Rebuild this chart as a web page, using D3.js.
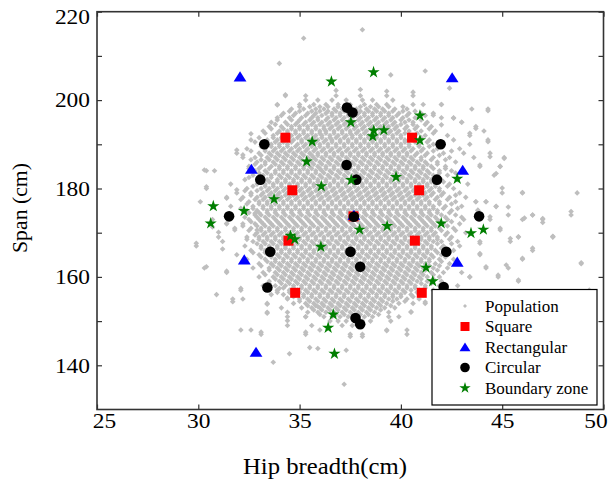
<!DOCTYPE html>
<html>
<head>
<meta charset="utf-8">
<script src="https://cdn.jsdelivr.net/npm/d3@7/dist/d3.min.js"></script>
<style>
  body { margin: 0; background: #fff; }
  text { font-family: 'Liberation Serif', 'Times New Roman', serif; fill: #000; }
</style>
</head>
<body>
<div id="chart"></div>
<script>
// ---
// Data
// ---
const xTickValues = [25, 30, 35, 40, 45, 50]
const yTickValues = [140, 150, 160, 170, 180, 190, 200, 210, 220]
const legendLabels = ['Population', 'Square', 'Rectangular', 'Circular', 'Boundary zone']

const squarePts = [
  [34.3, 191.5], [40.55, 191.5], [34.64, 179.6], [40.9, 179.6], [37.66, 173.7],
  [34.45, 168.2], [40.69, 168.2], [34.78, 156.4], [41.03, 156.4]
]

const rectPts = [
  [32.06, 205.3], [42.53, 205.1], [32.62, 184.4], [43.05, 184.2], [37.68, 174.0],
  [32.27, 163.9], [42.78, 163.4], [32.85, 143.0]
]

const circPts = [
  [37.34, 198.3], [37.61, 197.2], [33.26, 190.0], [41.96, 190.0], [37.32, 185.3],
  [33.06, 182.0], [37.8, 182.0], [41.78, 182.0], [31.52, 173.7], [37.68, 173.6],
  [43.86, 173.7], [33.55, 165.7], [37.51, 165.7], [42.24, 165.7], [37.99, 162.3],
  [33.41, 157.6], [42.11, 157.7], [37.76, 150.7], [37.99, 149.3]
]

const starPts = [
  [36.57, 204.2], [38.65, 206.3], [40.94, 196.5], [37.53, 195.0], [38.66, 193.1],
  [39.16, 193.2], [38.61, 191.8], [40.94, 190.9], [35.62, 190.6], [35.35, 186.1],
  [39.76, 182.6], [37.55, 181.9], [42.78, 182.2], [36.07, 180.5], [33.74, 177.6],
  [30.74, 176.0], [32.26, 174.9], [30.61, 172.1], [41.99, 172.1], [39.32, 171.5],
  [37.96, 170.7], [43.46, 169.9], [44.07, 170.7], [34.55, 169.3], [34.76, 168.5],
  [36.05, 166.8], [41.24, 162.1], [41.57, 159.0], [36.66, 151.5], [36.41, 148.5],
  [36.72, 142.6]
]

// population, dense part: [span, [hip breadths]]
const popRows = [
  [201, [34.3, 35.3, 36.8, 38.0, 39.3, 40.6]],
  [200, [35.3, 35.9, 36.6, 37.3, 38.1, 38.6, 39.6]],
  [199, [33.9, 35.0, 35.7, 36.3, 36.9, 37.5, 38.2, 38.8, 39.3, 40.6, 41.1, 42.0]],
  [198, [34.6, 35.2, 35.8, 36.2, 36.7, 37.1, 37.8, 38.3, 38.7, 39.1, 39.7, 40.3, 43.5, 44.3]],
  [197, [34.2, 34.8, 35.4, 35.8, 36.3, 36.6, 37.0, 37.4, 37.9, 38.2, 38.6, 39.0, 39.4, 39.9, 40.4, 41.0, 41.6]],
  [196, [33.9, 34.5, 35.1, 35.6, 35.9, 36.4, 36.8, 37.2, 37.6, 38.0, 38.4, 38.8, 39.2, 39.6, 40.1, 40.7, 42.0, 42.6]],
  [195, [33.6, 34.3, 34.9, 35.3, 35.7, 36.1, 36.5, 36.9, 37.3, 37.7, 38.1, 38.5, 38.9, 39.3, 39.7, 40.2, 40.6, 41.3, 43.0]],
  [194, [33.5, 34.1, 34.6, 35.0, 35.4, 35.8, 36.2, 36.6, 37.0, 37.4, 37.8, 38.2, 38.6, 39.0, 39.4, 39.8, 40.3, 40.8, 41.5, 43.7]],
  [193, [33.2, 34.0, 34.4, 34.8, 35.2, 35.6, 36.0, 36.3, 36.7, 37.1, 37.5, 37.9, 38.3, 38.7, 39.1, 39.5, 39.9, 40.4, 41.0, 41.7, 44.1]],
  [192, [33.7, 34.2, 34.6, 35.0, 35.4, 35.8, 36.1, 36.5, 36.9, 37.3, 37.6, 38.0, 38.4, 38.8, 39.2, 39.6, 40.0, 40.5, 41.2, 42.3, 43.4]],
  [191, [32.6, 33.4, 33.9, 34.3, 34.7, 35.1, 35.5, 35.9, 36.3, 36.6, 37.0, 37.4, 37.8, 38.2, 38.6, 39.0, 39.4, 39.8, 40.2, 40.7, 41.4, 42.6, 44.3]],
  [190, [33.1, 33.6, 34.0, 34.4, 34.9, 35.3, 35.7, 36.0, 36.4, 36.8, 37.2, 37.6, 38.0, 38.4, 38.8, 39.2, 39.6, 40.0, 40.4, 40.9, 41.6, 43.4]],
  [189, [32.4, 33.3, 33.8, 34.2, 34.6, 35.0, 35.4, 35.8, 36.2, 36.6, 37.0, 37.4, 37.8, 38.2, 38.6, 39.0, 39.4, 39.8, 40.2, 40.6, 41.1, 41.8, 42.9]],
  [188, [31.9, 33.0, 33.5, 33.9, 34.3, 34.7, 35.1, 35.5, 35.9, 36.3, 36.7, 37.1, 37.5, 37.9, 38.3, 38.7, 39.1, 39.5, 39.9, 40.3, 40.8, 41.3, 42.1, 43.1, 44.4]],
  [187, [32.2, 32.8, 33.4, 33.8, 34.2, 34.6, 35.0, 35.4, 35.7, 36.1, 36.5, 36.9, 37.3, 37.7, 38.1, 38.5, 38.9, 39.3, 39.7, 40.1, 40.5, 41.0, 41.6, 42.4, 43.6, 45.1]],
  [186, [32.9, 33.3, 33.7, 34.1, 34.5, 34.9, 35.3, 35.6, 36.0, 36.4, 36.8, 37.2, 37.6, 38.0, 38.4, 38.8, 39.2, 39.6, 40.0, 40.4, 40.8, 41.2, 41.8, 42.7]],
  [185, [32.5, 33.1, 33.6, 34.0, 34.4, 34.8, 35.2, 35.5, 35.9, 36.3, 36.7, 37.1, 37.5, 37.9, 38.3, 38.7, 39.1, 39.5, 39.9, 40.3, 40.7, 41.1, 41.5, 42.2, 43.9, 44.9]],
  [184, [30.4, 30.8, 32.8, 33.3, 33.8, 34.2, 34.6, 35.0, 35.4, 35.8, 36.1, 36.5, 36.9, 37.3, 37.7, 38.1, 38.5, 38.9, 39.3, 39.7, 40.1, 40.5, 40.9, 41.3, 41.9, 42.5]],
  [183, [32.7, 33.2, 33.6, 34.0, 34.4, 34.8, 35.2, 35.6, 36.0, 36.4, 36.8, 37.2, 37.6, 38.0, 38.4, 38.8, 39.2, 39.6, 40.0, 40.4, 40.8, 41.2, 41.6, 42.3, 44.6]],
  [182, [32.3, 33.4, 33.9, 34.3, 34.7, 35.1, 35.5, 35.9, 36.3, 36.7, 37.1, 37.5, 37.9, 38.3, 38.7, 39.1, 39.5, 39.9, 40.3, 40.7, 41.1, 41.5, 42.0, 42.8]],
  [181, [31.6, 32.9, 33.3, 33.7, 34.1, 34.5, 34.9, 35.3, 35.7, 36.1, 36.5, 36.9, 37.3, 37.7, 38.1, 38.5, 38.9, 39.3, 39.7, 40.1, 40.5, 40.9, 41.3, 41.7, 42.4, 43.3]],
  [180, [30.4, 32.4, 33.1, 33.5, 33.9, 34.3, 34.7, 35.1, 35.5, 35.9, 36.3, 36.7, 37.1, 37.5, 37.9, 38.3, 38.7, 39.1, 39.5, 39.9, 40.3, 40.7, 41.1, 41.5, 41.9, 42.6]],
  [179, [31.9, 32.6, 33.2, 33.6, 34.0, 34.4, 34.8, 35.2, 35.6, 36.0, 36.4, 36.8, 37.2, 37.6, 38.0, 38.4, 38.8, 39.2, 39.6, 40.0, 40.4, 40.8, 41.2, 41.6, 42.1, 42.9, 45.0, 46.0, 48.7]],
  [178, [31.4, 32.2, 32.9, 33.3, 33.7, 34.1, 34.5, 34.9, 35.3, 35.7, 36.1, 36.5, 36.9, 37.3, 37.7, 38.1, 38.5, 38.9, 39.3, 39.7, 40.1, 40.5, 40.9, 41.3, 41.8, 42.4, 43.2]],
  [177, [30.1, 32.5, 33.0, 33.4, 33.8, 34.2, 34.6, 35.0, 35.4, 35.8, 36.2, 36.6, 37.0, 37.4, 37.8, 38.2, 38.6, 39.0, 39.4, 39.8, 40.2, 40.6, 41.0, 41.4, 41.9, 42.7, 43.7, 44.2]],
  [176, [31.6, 32.7, 33.2, 33.6, 34.0, 34.4, 34.8, 35.2, 35.6, 36.0, 36.4, 36.8, 37.2, 37.6, 38.0, 38.4, 38.8, 39.2, 39.6, 40.0, 40.4, 40.8, 41.2, 41.6, 42.2, 43.0, 44.7]],
  [175, [32.4, 32.9, 33.4, 33.8, 34.2, 34.6, 35.0, 35.4, 35.8, 36.2, 36.6, 37.0, 37.4, 37.8, 38.2, 38.6, 39.0, 39.4, 39.8, 40.2, 40.6, 41.0, 41.4, 41.8, 42.5, 43.8]],
  [174, [32.8, 33.1, 33.5, 33.9, 34.3, 34.7, 35.1, 35.5, 35.9, 36.3, 36.7, 37.1, 37.5, 37.9, 38.3, 38.7, 39.1, 39.5, 39.9, 40.3, 40.7, 41.1, 41.5, 42.0, 42.7, 45.3, 46.5, 48.4]],
  [173, [30.7, 32.5, 33.0, 33.4, 33.8, 34.2, 34.6, 35.0, 35.4, 35.8, 36.2, 36.6, 37.0, 37.4, 37.8, 38.2, 38.6, 39.0, 39.4, 39.8, 40.2, 40.6, 41.0, 41.4, 41.8, 42.3, 43.1, 44.4, 46.0, 47.0]],
  [172, [31.4, 32.2, 32.8, 33.2, 33.6, 34.0, 34.4, 34.8, 35.2, 35.6, 36.0, 36.4, 36.8, 37.2, 37.6, 38.0, 38.4, 38.8, 39.2, 39.6, 40.0, 40.4, 40.8, 41.2, 41.6, 42.1, 42.9]],
  [171, [31.8, 32.6, 33.1, 33.5, 33.9, 34.3, 34.7, 35.1, 35.5, 35.9, 36.3, 36.7, 37.1, 37.5, 37.9, 38.3, 38.7, 39.1, 39.5, 39.9, 40.3, 40.7, 41.1, 41.5, 41.9, 42.6, 44.9]],
  [170, [32.9, 33.3, 33.7, 34.1, 34.5, 34.9, 35.3, 35.7, 36.1, 36.5, 36.9, 37.3, 37.7, 38.1, 38.5, 38.9, 39.3, 39.7, 40.1, 40.5, 40.9, 41.3, 41.7, 42.3, 43.2]],
  [169, [31.0, 32.4, 33.0, 33.4, 33.8, 34.2, 34.6, 35.0, 35.4, 35.8, 36.2, 36.6, 37.0, 37.4, 37.8, 38.2, 38.6, 39.0, 39.4, 39.8, 40.2, 40.6, 41.0, 41.4, 41.8, 42.5, 45.8, 47.5]],
  [168, [31.2, 32.7, 33.2, 33.6, 34.0, 34.4, 34.8, 35.2, 35.6, 36.0, 36.4, 36.8, 37.2, 37.6, 38.0, 38.4, 38.8, 39.2, 39.6, 40.0, 40.4, 40.8, 41.2, 41.6, 42.0, 42.8, 43.9, 45.4]],
  [167, [29.9, 32.3, 33.1, 33.5, 33.9, 34.3, 34.7, 35.1, 35.5, 35.9, 36.3, 36.7, 37.1, 37.5, 37.9, 38.3, 38.7, 39.1, 39.5, 39.9, 40.3, 40.7, 41.1, 41.5, 42.1, 42.9]],
  [166, [32.6, 33.3, 33.7, 34.1, 34.5, 34.9, 35.3, 35.7, 36.1, 36.5, 36.9, 37.3, 37.7, 38.1, 38.5, 38.9, 39.3, 39.7, 40.1, 40.5, 40.9, 41.3, 41.7, 42.6, 46.5]],
  [165, [31.9, 33.0, 33.5, 33.9, 34.3, 34.7, 35.1, 35.5, 35.9, 36.3, 36.7, 37.1, 37.5, 37.9, 38.3, 38.7, 39.1, 39.5, 39.9, 40.3, 40.7, 41.1, 41.5, 42.0, 43.9]],
  [164, [32.4, 33.3, 33.8, 34.2, 34.6, 35.0, 35.4, 35.8, 36.2, 36.6, 37.0, 37.4, 37.8, 38.2, 38.6, 39.0, 39.4, 39.8, 40.2, 40.6, 41.0, 41.4, 41.9, 42.6, 46.0]],
  [163, [33.0, 33.6, 34.0, 34.4, 34.8, 35.2, 35.6, 36.0, 36.4, 36.8, 37.2, 37.6, 38.0, 38.4, 38.8, 39.2, 39.6, 40.0, 40.4, 40.8, 41.2, 41.7, 42.4, 48.9]],
  [162, [30.3, 32.7, 33.5, 33.9, 34.3, 34.7, 35.1, 35.5, 35.9, 36.3, 36.7, 37.1, 37.5, 37.9, 38.3, 38.7, 39.1, 39.5, 39.9, 40.3, 40.7, 41.1, 41.6, 42.3, 44.2, 45.3]],
  [161, [31.4, 33.2, 33.8, 34.2, 34.6, 35.0, 35.4, 35.8, 36.2, 36.6, 37.0, 37.4, 37.8, 38.2, 38.6, 39.0, 39.4, 39.8, 40.2, 40.6, 41.0, 41.5, 42.1, 43.0]],
  [160, [33.0, 33.7, 34.1, 34.5, 34.9, 35.3, 35.7, 36.1, 36.5, 36.9, 37.3, 37.7, 38.1, 38.5, 38.9, 39.3, 39.7, 40.1, 40.5, 40.9, 41.3, 41.9, 43.4, 44.8]],
  [159, [33.5, 34.0, 34.4, 34.8, 35.2, 35.6, 36.0, 36.4, 36.8, 37.2, 37.6, 38.0, 38.4, 38.8, 39.2, 39.6, 40.0, 40.4, 40.8, 41.3, 42.0, 45.8]],
  [158, [33.2, 33.8, 34.3, 34.7, 35.1, 35.5, 35.9, 36.3, 36.7, 37.1, 37.5, 37.9, 38.3, 38.7, 39.1, 39.5, 39.9, 40.3, 40.7, 41.2, 41.9, 42.8]],
  [157, [32.1, 33.9, 34.5, 34.9, 35.3, 35.7, 36.1, 36.5, 36.9, 37.3, 37.7, 38.1, 38.5, 38.9, 39.3, 39.7, 40.1, 40.5, 40.9, 41.6, 49.3]],
  [156, [30.9, 33.6, 34.2, 34.8, 35.2, 35.6, 36.0, 36.4, 36.8, 37.2, 37.6, 38.0, 38.4, 38.8, 39.2, 39.6, 40.0, 40.5, 41.1, 42.3]],
  [155, [31.7, 32.2, 34.4, 35.0, 35.4, 35.8, 36.2, 36.6, 37.0, 37.4, 37.8, 38.2, 38.6, 39.0, 39.4, 39.8, 40.3, 40.9]],
  [154, [33.4, 34.7, 35.3, 35.7, 36.1, 36.5, 36.9, 37.3, 37.7, 38.1, 38.5, 38.9, 39.3, 39.9, 40.6, 41.2]],
  [153, [34.1, 35.1, 35.6, 36.0, 36.4, 36.8, 37.2, 37.6, 38.0, 38.4, 38.8, 39.2, 39.7]],
  [152, [33.4, 34.4, 35.4, 35.9, 36.3, 36.7, 37.1, 37.5, 37.9, 38.3, 38.7, 39.4, 40.5]],
  [151, [34.4, 35.3, 36.2, 36.6, 37.0, 37.4, 37.8, 38.2, 38.6, 39.4, 39.9]],
  [150, [36.5, 36.9, 37.3, 37.7, 38.1, 38.5, 39.5]],
  [149, [34.4, 35.6, 37.1, 37.6]],
  [148, [32.1, 32.6, 36.0, 39.3, 40.3]],
  [147, [33.1, 35.3, 37.5, 38.1]]
]

// population, dense part between the rows above: [span, [hip breadths]]
const popHalfRows = [
  [198.5, [35.0, 35.5, 36.0, 36.4, 36.9, 37.5, 38.0, 38.5, 38.9, 39.4, 40.1]],
  [197.5, [34.5, 35.0, 35.6, 36.0, 36.4, 36.8, 37.2, 37.6, 38.0, 38.4, 38.8, 39.2, 39.6, 40.1, 40.7]],
  [196.5, [34.1, 34.7, 35.3, 35.7, 36.1, 36.6, 37.0, 37.4, 37.8, 38.2, 38.6, 39.0, 39.4, 39.8, 40.3, 41.2]],
  [195.5, [33.9, 34.6, 35.0, 35.5, 35.9, 36.3, 36.7, 37.1, 37.5, 37.9, 38.3, 38.7, 39.1, 39.5, 40.0, 40.4, 41.0]],
  [194.5, [33.8, 34.4, 34.8, 35.2, 35.6, 36.0, 36.4, 36.8, 37.2, 37.6, 38.0, 38.4, 38.8, 39.2, 39.6, 40.0, 40.6, 41.2]],
  [193.5, [33.6, 34.2, 34.6, 35.0, 35.4, 35.8, 36.2, 36.5, 36.9, 37.3, 37.7, 38.1, 38.5, 38.9, 39.3, 39.7, 40.2, 40.7, 41.4]],
  [192.5, [33.3, 33.9, 34.4, 34.8, 35.2, 35.6, 36.0, 36.3, 36.7, 37.1, 37.5, 37.8, 38.2, 38.6, 39.0, 39.4, 39.8, 40.2, 40.8, 41.6]],
  [191.5, [33.0, 33.7, 34.1, 34.5, 34.9, 35.3, 35.7, 36.1, 36.5, 36.8, 37.2, 37.6, 38.0, 38.4, 38.8, 39.2, 39.6, 40.0, 40.5, 41.0]],
  [190.5, [32.8, 33.4, 33.8, 34.2, 34.6, 35.1, 35.5, 35.8, 36.2, 36.6, 37.0, 37.4, 37.8, 38.2, 38.6, 39.0, 39.4, 39.8, 40.2, 40.7, 41.3, 42.0]],
  [189.5, [33.1, 33.6, 34.0, 34.4, 34.8, 35.2, 35.6, 36.0, 36.4, 36.8, 37.2, 37.6, 38.0, 38.4, 38.8, 39.2, 39.6, 40.0, 40.4, 40.9, 41.4]],
  [188.5, [32.6, 33.3, 33.7, 34.1, 34.5, 34.9, 35.3, 35.7, 36.1, 36.5, 36.9, 37.3, 37.7, 38.1, 38.5, 38.9, 39.3, 39.7, 40.1, 40.5, 41.0, 41.6, 42.5]],
  [187.5, [33.1, 33.6, 34.0, 34.4, 34.8, 35.2, 35.6, 35.9, 36.3, 36.7, 37.1, 37.5, 37.9, 38.3, 38.7, 39.1, 39.5, 39.9, 40.3, 40.7, 41.2, 41.9]],
  [186.5, [32.6, 33.1, 33.5, 33.9, 34.3, 34.7, 35.1, 35.5, 35.8, 36.2, 36.6, 37.0, 37.4, 37.8, 38.2, 38.6, 39.0, 39.4, 39.8, 40.2, 40.6, 41.0, 41.5, 42.2]],
  [185.5, [32.8, 33.3, 33.8, 34.2, 34.6, 35.0, 35.3, 35.7, 36.1, 36.5, 36.9, 37.3, 37.7, 38.1, 38.5, 38.9, 39.3, 39.7, 40.1, 40.5, 40.9, 41.3, 41.8]],
  [184.5, [32.5, 33.0, 33.5, 34.0, 34.4, 34.8, 35.2, 35.6, 36.0, 36.3, 36.7, 37.1, 37.5, 37.9, 38.3, 38.7, 39.1, 39.5, 39.9, 40.3, 40.7, 41.1, 41.6, 42.2]],
  [183.5, [33.0, 33.4, 33.8, 34.2, 34.6, 35.0, 35.4, 35.8, 36.2, 36.6, 37.0, 37.4, 37.8, 38.2, 38.6, 39.0, 39.4, 39.8, 40.2, 40.6, 41.0, 41.4, 41.9, 42.7]],
  [182.5, [32.5, 33.1, 33.6, 34.1, 34.5, 34.9, 35.3, 35.7, 36.1, 36.5, 36.9, 37.3, 37.7, 38.1, 38.5, 38.9, 39.3, 39.7, 40.1, 40.5, 40.9, 41.3, 41.8]],
  [181.5, [33.1, 33.5, 33.9, 34.3, 34.7, 35.1, 35.5, 35.9, 36.3, 36.7, 37.1, 37.5, 37.9, 38.3, 38.7, 39.1, 39.5, 39.9, 40.3, 40.7, 41.1, 41.5, 42.1]],
  [180.5, [32.7, 33.3, 33.7, 34.1, 34.5, 34.9, 35.3, 35.7, 36.1, 36.5, 36.9, 37.3, 37.7, 38.1, 38.5, 38.9, 39.3, 39.7, 40.1, 40.5, 40.9, 41.3, 41.7, 42.3]],
  [179.5, [32.3, 32.9, 33.4, 33.8, 34.2, 34.6, 35.0, 35.4, 35.8, 36.2, 36.6, 37.0, 37.4, 37.8, 38.2, 38.6, 39.0, 39.4, 39.8, 40.2, 40.6, 41.0, 41.4, 41.9]],
  [178.5, [32.6, 33.1, 33.5, 33.9, 34.3, 34.7, 35.1, 35.5, 35.9, 36.3, 36.7, 37.1, 37.5, 37.9, 38.3, 38.7, 39.1, 39.5, 39.9, 40.3, 40.7, 41.1, 41.5, 42.0, 42.7]],
  [177.5, [32.1, 32.8, 33.2, 33.6, 34.0, 34.4, 34.8, 35.2, 35.6, 36.0, 36.4, 36.8, 37.2, 37.6, 38.0, 38.4, 38.8, 39.2, 39.6, 40.0, 40.4, 40.8, 41.2, 41.7, 42.3]],
  [176.5, [32.4, 33.0, 33.4, 33.8, 34.2, 34.6, 35.0, 35.4, 35.8, 36.2, 36.6, 37.0, 37.4, 37.8, 38.2, 38.6, 39.0, 39.4, 39.8, 40.2, 40.6, 41.0, 41.4, 41.9, 42.5]],
  [175.5, [32.1, 32.7, 33.2, 33.6, 34.0, 34.4, 34.8, 35.2, 35.6, 36.0, 36.4, 36.8, 37.2, 37.6, 38.0, 38.4, 38.8, 39.2, 39.6, 40.0, 40.4, 40.8, 41.2, 41.6, 42.1, 42.8]],
  [174.5, [32.5, 33.0, 33.4, 33.8, 34.2, 34.6, 35.0, 35.4, 35.8, 36.2, 36.6, 37.0, 37.4, 37.8, 38.2, 38.6, 39.0, 39.4, 39.8, 40.2, 40.6, 41.0, 41.4, 41.8, 42.4]],
  [173.5, [32.3, 32.9, 33.3, 33.7, 34.1, 34.5, 34.9, 35.3, 35.7, 36.1, 36.5, 36.9, 37.3, 37.7, 38.1, 38.5, 38.9, 39.3, 39.7, 40.1, 40.5, 40.9, 41.3, 41.7, 42.2, 43.0]],
  [172.5, [32.6, 33.1, 33.5, 33.9, 34.3, 34.7, 35.1, 35.5, 35.9, 36.3, 36.7, 37.1, 37.5, 37.9, 38.3, 38.7, 39.1, 39.5, 39.9, 40.3, 40.7, 41.1, 41.5, 41.9, 42.5]],
  [171.5, [32.2, 32.9, 33.3, 33.7, 34.1, 34.5, 34.9, 35.3, 35.7, 36.1, 36.5, 36.9, 37.3, 37.7, 38.1, 38.5, 38.9, 39.3, 39.7, 40.1, 40.5, 40.9, 41.3, 41.7, 42.3]],
  [170.5, [32.5, 33.1, 33.5, 33.9, 34.3, 34.7, 35.1, 35.5, 35.9, 36.3, 36.7, 37.1, 37.5, 37.9, 38.3, 38.7, 39.1, 39.5, 39.9, 40.3, 40.7, 41.1, 41.5, 42.0, 42.7]],
  [169.5, [32.8, 33.2, 33.6, 34.0, 34.4, 34.8, 35.2, 35.6, 36.0, 36.4, 36.8, 37.2, 37.6, 38.0, 38.4, 38.8, 39.2, 39.6, 40.0, 40.4, 40.8, 41.2, 41.6, 42.2]],
  [168.5, [32.4, 33.0, 33.4, 33.8, 34.2, 34.6, 35.0, 35.4, 35.8, 36.2, 36.6, 37.0, 37.4, 37.8, 38.2, 38.6, 39.0, 39.4, 39.8, 40.2, 40.6, 41.0, 41.4, 41.8, 42.4]],
  [167.5, [32.9, 33.3, 33.7, 34.1, 34.5, 34.9, 35.3, 35.7, 36.1, 36.5, 36.9, 37.3, 37.7, 38.1, 38.5, 38.9, 39.3, 39.7, 40.1, 40.5, 40.9, 41.3, 41.8, 42.5]],
  [166.5, [33.1, 33.5, 33.9, 34.3, 34.7, 35.1, 35.5, 35.9, 36.3, 36.7, 37.1, 37.5, 37.9, 38.3, 38.7, 39.1, 39.5, 39.9, 40.3, 40.7, 41.1, 41.5, 42.0]],
  [165.5, [32.7, 33.3, 33.7, 34.1, 34.5, 34.9, 35.3, 35.7, 36.1, 36.5, 36.9, 37.3, 37.7, 38.1, 38.5, 38.9, 39.3, 39.7, 40.1, 40.5, 40.9, 41.3, 41.8, 42.4]],
  [164.5, [33.1, 33.6, 34.0, 34.4, 34.8, 35.2, 35.6, 36.0, 36.4, 36.8, 37.2, 37.6, 38.0, 38.4, 38.8, 39.2, 39.6, 40.0, 40.4, 40.8, 41.2, 41.6, 42.2]],
  [163.5, [33.4, 33.8, 34.2, 34.6, 35.0, 35.4, 35.8, 36.2, 36.6, 37.0, 37.4, 37.8, 38.2, 38.6, 39.0, 39.4, 39.8, 40.2, 40.6, 41.0, 41.4, 42.0]],
  [162.5, [33.1, 33.7, 34.1, 34.5, 34.9, 35.3, 35.7, 36.1, 36.5, 36.9, 37.3, 37.7, 38.1, 38.5, 38.9, 39.3, 39.7, 40.1, 40.5, 40.9, 41.4, 41.9]],
  [161.5, [33.5, 34.0, 34.4, 34.8, 35.2, 35.6, 36.0, 36.4, 36.8, 37.2, 37.6, 38.0, 38.4, 38.8, 39.2, 39.6, 40.0, 40.4, 40.8, 41.2, 41.8]],
  [160.5, [33.3, 33.9, 34.3, 34.7, 35.1, 35.5, 35.9, 36.3, 36.7, 37.1, 37.5, 37.9, 38.3, 38.7, 39.1, 39.5, 39.9, 40.3, 40.7, 41.1, 41.6]],
  [159.5, [33.8, 34.2, 34.6, 35.0, 35.4, 35.8, 36.2, 36.6, 37.0, 37.4, 37.8, 38.2, 38.6, 39.0, 39.4, 39.8, 40.2, 40.6, 41.0, 41.6]],
  [158.5, [33.5, 34.1, 34.5, 34.9, 35.3, 35.7, 36.1, 36.5, 36.9, 37.3, 37.7, 38.1, 38.5, 38.9, 39.3, 39.7, 40.1, 40.5, 41.0, 41.5]],
  [157.5, [34.2, 34.7, 35.1, 35.5, 35.9, 36.3, 36.7, 37.1, 37.5, 37.9, 38.3, 38.7, 39.1, 39.5, 39.9, 40.3, 40.7, 41.2]],
  [156.5, [33.9, 34.5, 35.0, 35.4, 35.8, 36.2, 36.6, 37.0, 37.4, 37.8, 38.2, 38.6, 39.0, 39.4, 39.8, 40.2, 40.8]],
  [155.5, [34.7, 35.2, 35.6, 36.0, 36.4, 36.8, 37.2, 37.6, 38.0, 38.4, 38.8, 39.2, 39.6, 40.0, 40.6]],
  [154.5, [35.0, 35.5, 35.9, 36.3, 36.7, 37.1, 37.5, 37.9, 38.3, 38.7, 39.1, 39.6, 40.2]],
  [153.5, [35.4, 35.8, 36.2, 36.6, 37.0, 37.4, 37.8, 38.2, 38.6, 39.0, 39.5]],
  [152.5, [35.7, 36.1, 36.5, 36.9, 37.3, 37.7, 38.1, 38.5, 39.0]],
  [151.5, [36.0, 36.8, 37.2, 37.6, 38.0, 38.4, 38.9]]
]

// population, scattered outliers: [hip breadth, span]
const popSparse = [
  [38.1, 215.9], [35.2, 214.0], [34.0, 208.3], [39.5, 205.7], [41.2, 206.6], [42.4, 202.7],
  [34.3, 201.2], [33.9, 198.9], [36.8, 202.2], [38.0, 202.4], [39.3, 202.0], [40.6, 201.8],
  [42.0, 199.0], [44.3, 197.6], [42.6, 195.9], [43.0, 195.0], [43.7, 193.6], [41.6, 196.6],
  [42.0, 194.4], [30.3, 184.2], [30.4, 180.4], [30.7, 171.3], [29.9, 167.6], [31.0, 170.1],
  [31.9, 188.7], [32.6, 192.4], [32.2, 187.6], [31.4, 177.8], [31.9, 179.7], [32.6, 178.9],
  [31.4, 172.1], [31.8, 170.6], [31.2, 166.3], [32.8, 174.4], [32.9, 170.6], [30.4, 162.3],
  [31.4, 161.3], [32.1, 157.4], [31.7, 154.4], [33.4, 153.8], [33.4, 151.8], [33.1, 147.5],
  [34.4, 150.1], [34.5, 142.6], [33.7, 140.7], [35.5, 144.0], [35.9, 143.8], [35.3, 147.5],
  [37.2, 135.7], [37.3, 143.4], [37.5, 146.5], [38.1, 146.5], [39.3, 147.8], [40.3, 147.0],
  [41.2, 154.3], [40.5, 152.1], [35.3, 151.0], [35.9, 153.3], [34.0, 157.4], [34.4, 155.2],
  [43.4, 192.5], [44.3, 190.6], [45.1, 186.8], [44.4, 187.2], [43.9, 185.3], [44.7, 183.4],
  [45.0, 180.1], [46.0, 179.1], [44.2, 177.0], [44.7, 175.9], [45.3, 175.8], [46.1, 173.3],
  [46.5, 174.0], [47.0, 172.3], [48.4, 174.8], [44.9, 170.6], [45.4, 168.7], [45.8, 169.1],
  [47.5, 169.2], [46.5, 166.5], [46.0, 164.2], [45.2, 162.7], [48.9, 163.2], [44.8, 160.4],
  [45.8, 159.3], [43.9, 165.3], [44.2, 162.3], [43.4, 160.0], [44.9, 185.0], [43.9, 167.6],
  [44.4, 173.6], [43.7, 177.0], [43.8, 175.1], [47.0, 173.2], [47.5, 169.1], [49.3, 156.8]
]

// ---
// Chart
// ---
const W = 611
const H = 481
const margin = {top: 11.7, right: 7.5, bottom: 71.5, left: 97}
const width = W - margin.left - margin.right
const height = H - margin.top - margin.bottom

// Scale
const xScale = d3.scaleLinear()
  .domain([25, 50])
  .range([0, width])

const yScale = d3.scaleLinear()
  .domain([130, 220])
  .range([height, 0])

// Container
const root = d3.select('#chart').append('svg')
  .attr('width', W)
  .attr('height', H)

const svg = root.append('g')
  .attr('transform', `translate(${margin.left}, ${margin.top})`)

// Markers
const diamond = 'M0,-2.8L2.8,0L0,2.8L-2.8,0Z'
const square = 'M-5,-5h10v10h-10Z'
const triangle = 'M0,-5.3L6.4,4.8L-6.4,4.8Z'
const circle = d3.symbol(d3.symbolCircle, Math.PI * 5.3 * 5.3)()
const star = d3.symbol(d3.symbolStar, 46)()

const rowsToPts = rows => rows.flatMap(([y, xs]) => xs.map(x => [x, y]))

const series = [
  {pts: rowsToPts(popRows).concat(rowsToPts(popHalfRows), popSparse), path: diamond, color: '#bebebe'},
  {pts: squarePts, path: square, color: '#ff0000'},
  {pts: rectPts, path: triangle, color: '#0000ff'},
  {pts: circPts, path: circle, color: '#000000'},
  {pts: starPts, path: star, color: '#007f00'}
]

series.forEach(s => {
  svg.append('g')
    .selectAll('path')
      .data(s.pts)
    .enter()
      .append('path')
      .attr('d', s.path)
      .attr('transform', d => `translate(${xScale(d[0])}, ${yScale(d[1])})`)
      .attr('fill', s.color)
})

// Axes (matlab style: ticks inside, on every side)
const tickStyle = g => {
  g.select('.domain').remove()
  g.selectAll('.tick line').attr('stroke', '#333').attr('stroke-width', 1.2)
  g.selectAll('.tick text')
    .attr('font-size', 21)
    .attr('font-family', "'Liberation Serif', 'Times New Roman', serif")
    .attr('fill', '#000')
    .attr('lengthAdjust', 'spacingAndGlyphs')
    .attr('textLength', function () { return this.textContent.length * 11.7 || null })
}

svg.append('g')
  .attr('transform', `translate(0, ${height})`)
  .call(d3.axisBottom(xScale).tickValues(xTickValues).tickSize(-5).tickSizeOuter(0).tickPadding(4))
  .call(tickStyle)
  .call(g => g.selectAll('.tick text').filter(d => d === 25).attr('x', 7))
  .call(g => g.selectAll('.tick text').filter(d => d === 50).attr('x', -8))

svg.append('g')
  .call(d3.axisTop(xScale).tickValues(xTickValues).tickSize(-5).tickSizeOuter(0).tickFormat(''))
  .call(tickStyle)

svg.append('g')
  .call(d3.axisLeft(yScale).tickValues(yTickValues).tickSize(-5).tickSizeOuter(0).tickPadding(7)
    .tickFormat(d => d % 20 === 0 ? d : ''))
  .call(tickStyle)
  .call(g => g.selectAll('.tick text').filter(d => d === 220).attr('y', 5))

svg.append('g')
  .attr('transform', `translate(${width}, 0)`)
  .call(d3.axisRight(yScale).tickValues(yTickValues).tickSize(-5).tickSizeOuter(0).tickFormat(''))
  .call(tickStyle)

// Frame
svg.append('rect')
  .attr('width', width)
  .attr('height', height)
  .attr('fill', 'none')
  .attr('stroke', '#333')
  .attr('stroke-width', 1.6)

// Titles
root.append('text')
  .attr('x', 325)
  .attr('y', 474)
  .attr('text-anchor', 'middle')
  .attr('font-size', 23)
  .attr('textLength', 164)
  .attr('lengthAdjust', 'spacingAndGlyphs')
  .text('Hip breadth(cm)')

root.append('text')
  .attr('transform', 'translate(26.5, 208) rotate(-90)')
  .attr('text-anchor', 'middle')
  .attr('font-size', 22)
  .attr('textLength', 90)
  .attr('lengthAdjust', 'spacingAndGlyphs')
  .text('Span (cm)')

// Legend
const legend = root.append('g')

legend.append('rect')
  .attr('x', 432)
  .attr('y', 289.5)
  .attr('width', 165)
  .attr('height', 115.5)
  .attr('fill', '#fff')
  .attr('stroke', '#000')
  .attr('stroke-width', 1.2)

const legendPaths = ['M0,-2L2,0L0,2L-2,0Z', 'M-4.5,-4.5h9v9h-9Z', 'M0,-4.5L5.5,4.2L-5.5,4.2Z',
  d3.symbol(d3.symbolCircle, Math.PI * 4.8 * 4.8)(), d3.symbol(d3.symbolStar, 40)()]

const item = legend.selectAll('g.item')
    .data(legendLabels)
  .enter()
    .append('g')
    .attr('class', 'item')
    .attr('transform', (d, i) => `translate(465, ${306 + i * 20.5})`)

item.append('path')
  .attr('d', (d, i) => legendPaths[i])
  .attr('fill', (d, i) => series[i].color)

item.append('text')
  .attr('x', 20)
  .attr('y', 5.5)
  .attr('font-size', 17)
  .text(d => d)
</script>
</body>
</html>
